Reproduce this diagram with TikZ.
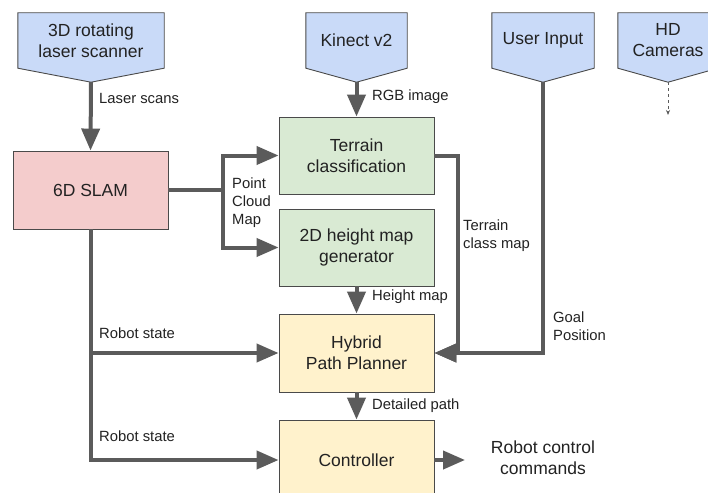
\documentclass[tikz,border=0pt]{standalone}
\usepackage{fontspec}
\setmainfont{Liberation Sans}
\usetikzlibrary{arrows.meta,calc,backgrounds}
\definecolor{srcblue}{HTML}{C9DAF8}
\definecolor{slamred}{HTML}{F4CCCC}
\definecolor{procgreen}{HTML}{D9EAD3}
\definecolor{planyellow}{HTML}{FFF2CC}
\definecolor{edgegray}{HTML}{4A4A4A}
\definecolor{arrowgray}{HTML}{5B5B5B}
\definecolor{txt}{HTML}{222222}
\tikzset{
  boxtext/.style={font=\fontsize{17.5}{21}\selectfont, text=txt, align=center, inner sep=0pt},
  srcnode/.style={boxtext, minimum height=55pt},
  procbox/.style={boxtext, draw=edgegray, line width=0.9pt, minimum width=155pt},
  lbl/.style={font=\fontsize{14.8}{18}\selectfont, text=txt, align=left, inner sep=0pt, anchor=west},
  arr/.style={draw=arrowgray, line width=4pt, -{Triangle[length=22pt,width=18pt]}},
  dasharr/.style={draw=arrowgray, line width=0.8pt, dashed, -{Stealth[length=5pt,width=4pt]}},
  srcshape/.style={fill=srcblue, draw=edgegray, line width=0.9pt}
}
\newcommand{\pentshape}[2]{%
  \draw[srcshape] (#1.north west) -- (#1.north east) -- (#1.south east)
    -- (#2) -- (#1.south west) -- cycle;}
\begin{document}
\begin{tikzpicture}[x=1pt,y=-1pt]
\useasboundingbox (0,0) rectangle (708,492);
\clip (0,0) rectangle (708,492);

% source pentagons
\node[srcnode, minimum width=146pt] (laser) at (91,40.5) {3D rotating\\laser scanner};
\node[srcnode, minimum width=101pt] (kinect) at (356.5,40.5) {Kinect v2};
\node[srcnode, minimum width=102pt] (user) at (543,40.5) {User Input};
\node[srcnode, minimum width=100pt] (hd) at (668,40.5) {HD\\Cameras};
\coordinate (lasertip) at ($(laser.south)+(0,14)$);
\coordinate (kinecttip) at ($(kinect.south)+(0,14)$);
\coordinate (usertip) at ($(user.south)+(0,14)$);
\coordinate (hdtip) at ($(hd.south)+(0,14)$);
\begin{scope}[on background layer]
  \fill[white] (0,0) rectangle (708,492);
  \pentshape{laser}{lasertip}
  \pentshape{kinect}{kinecttip}
  \pentshape{user}{usertip}
  \pentshape{hd}{hdtip}
\end{scope}

% process boxes
\node[procbox, fill=slamred, minimum height=78pt] (slam) at (90.5,190) {6D SLAM};
\node[procbox, fill=procgreen, minimum height=77pt] (terrain) at (356.5,155.5) {Terrain\\classification};
\node[procbox, fill=procgreen, minimum height=77pt] (height) at (356.5,247.5) {2D height map\\generator};
\node[procbox, fill=planyellow, minimum height=78pt] (hybrid) at (356.5,353) {Hybrid\\Path Planner};
\node[procbox, fill=planyellow, minimum height=80pt] (ctrl) at (356.5,460) {Controller};
\node[boxtext] (out) at (543,458) {Robot control\\commands};
\coordinate (outtip) at (465,460);
\coordinate (hdend) at (668,115);

% connectors
\draw[arr] (lasertip) -- (slam.north);
\draw[arr] (kinecttip) -- (terrain.north);
\draw[dasharr] (hdtip) -- (hdend);
\draw[arr] (slam.east) -- ++(55,0) |- (terrain.west);
\draw[arr] (slam.east) -- ++(55,0) |- (height.west);
\draw[arr] (height.south) -- (hybrid.north);
\draw[arr] (terrain.east) -- ++(24,0) |- (hybrid.east);
\draw[arr] (usertip) |- (hybrid.east);
\draw[arr] (slam.south) |- (hybrid.west);
\draw[arr] (slam.south) |- (ctrl.west);
\draw[arr] (hybrid.south) -- (ctrl.north);
\draw[arr] (ctrl.east) -- (outtip);

% labels
\node[lbl] (l1) at (99,98) {Laser scans};
\node[lbl] (l2) at (372,97) {RGB image};
\node[lbl] (l3) at (232,203) {Point\\Cloud\\Map};
\node[lbl] (l4) at (463,236) {Terrain\\class map};
\node[lbl] (l5) at (372,297) {Height map};
\node[lbl] (l6) at (553,326) {Goal\\Position};
\node[lbl] (l7) at (99,333) {Robot state};
\node[lbl] (l8) at (99,436) {Robot state};
\node[lbl] (l9) at (372,406) {Detailed path};
\end{tikzpicture}
\end{document}
